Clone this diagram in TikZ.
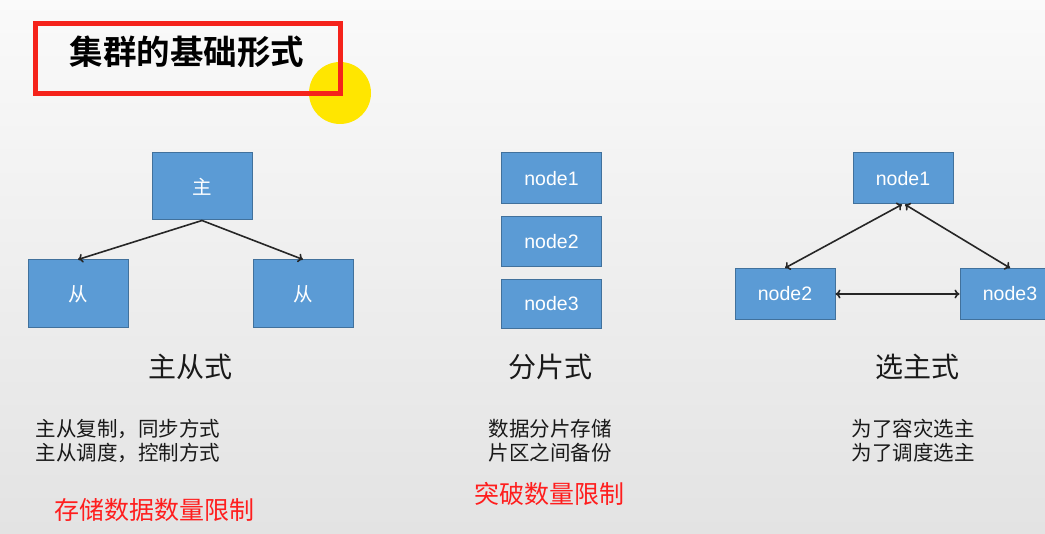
\documentclass[tikz,border=0pt]{standalone}
\usepackage{fontspec}
\setmainfont{Liberation Sans}
\newfontfamily\cjk{Noto Sans CJK SC}
\newfontfamily\cjkbold{Noto Sans CJK SC Bold}
\usetikzlibrary{arrows.meta}
\definecolor{boxfill}{HTML}{5B9BD5}
\definecolor{boxline}{HTML}{41719C}
\definecolor{frame}{HTML}{F5231B}
\definecolor{note}{HTML}{FF1E1E}
\definecolor{marker}{HTML}{FFE600}
\begin{document}
\begin{tikzpicture}[x=1pt,y=-1pt,
  box/.style={draw=boxline, line width=1pt, fill=boxfill, text=white,
    minimum width=100pt, inner sep=0pt, font=\fontsize{19.5}{19.5}\selectfont},
  link/.style={line width=1.6pt, draw=black!85},
  tip/.style={-{To[length=5pt,width=9pt]}},
  tips/.style={{To[length=5pt,width=9pt]}-{To[length=5pt,width=9pt]}},
  heading/.style={font=\cjk\fontsize{28}{28}\selectfont, text=black!90},
  body/.style={font=\cjk\fontsize{20.5}{24}\selectfont, text=black!90, align=left},
  redtext/.style={font=\cjk\fontsize{25}{25}\selectfont, text=note}]
  % page and background
  \useasboundingbox (0,0) rectangle (1045,534);
  \clip (0,0) rectangle (1045,534);
  \shade[top color=white!98!black, bottom color=white!89!black] (0,0) rectangle (1045,534);

  % title with highlight marker
  \fill[marker] (340,93) circle (31);
  \node[draw=frame, line width=5pt, minimum width=305pt, minimum height=70pt,
        inner sep=0pt] (titlebox) at (188,58.5) {};
  \node[font=\cjkbold\fontsize{33.5}{33.5}\selectfont] (title) at (187,52) {集群的基础形式};

  % master / slave
  \node[box, minimum height=67pt] (master) at (202,186.5) {\cjk 主};
  \node[box, minimum height=68pt] (slaveA) at (78,294) {\cjk 从};
  \node[box, minimum height=68pt] (slaveB) at (303,294) {\cjk 从};
  \draw[link, tip] (master.south) -- (slaveA.north);
  \draw[link, tip] (master.south) -- (slaveB.north);
  \node[heading] (msTitle) at (190,367) {主从式};
  \node[body, anchor=west] (msText) at (32,441) {主从复制，同步方式\\主从调度，控制方式};
  \node[redtext, anchor=west] (msNote) at (51,510) {存储数据数量限制};

  % sharding
  \node[box, minimum height=51pt] (s1) at (551.5,178.5) {node1};
  \node[box, minimum height=50pt] (s2) at (551.5,241.5) {node2};
  \node[box, minimum height=49pt] (s3) at (551.5,304) {node3};
  \node[heading] (shTitle) at (550,367) {分片式};
  \node[body, align=center] (shText) at (550,441) {数据分片存储\\片区之间备份};
  \node[redtext] (shNote) at (549,494) {突破数量限制};

  % leader election
  \node[box, minimum height=51pt] (e1) at (903,178.5) {node1};
  \node[box, minimum height=51pt] (e2) at (785,294) {node2};
  \node[box, minimum height=51pt] (e3) at (1010,294) {node3};
  \draw[link, tips] ([xshift=-1pt]e1.south) -- (e2.north);
  \draw[link, tips] ([xshift=2pt]e1.south) -- (e3.north);
  \draw[link, tips] (e2.east) -- (e3.west);
  \node[heading] (elTitle) at (917,367) {选主式};
  \node[body, align=center] (elText) at (913,441) {为了容灾选主\\为了调度选主};
\end{tikzpicture}
\end{document}
